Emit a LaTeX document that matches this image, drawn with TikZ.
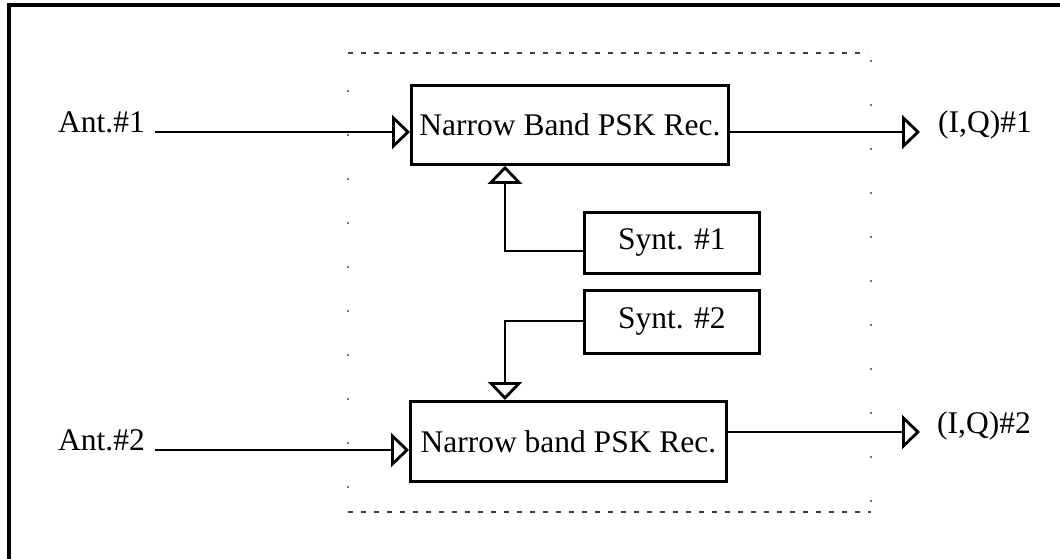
\documentclass[tikz,border=0pt]{standalone}
\usepackage{fontspec}
\setmainfont{Liberation Serif}
\usetikzlibrary{arrows.meta}
\begin{document}
\begin{tikzpicture}[x=1pt,y=-1pt,
  every node/.style={font=\fontsize{31.5}{36}\selectfont},
  blk/.style={draw,line width=2.8pt,inner sep=0pt,anchor=north west},
  lbl/.style={inner sep=0pt,anchor=base west},
  wire/.style={line width=2.8pt},
  tri/.style={wire,-{Triangle[open,length=18pt,width=34pt]}},
  frame/.style={line width=3.2pt},
  dashbox/.style={line width=1.3pt,black!75,dash pattern=on 5pt off 8pt},
  dotside/.style={line width=1.3pt,black!55,dash pattern=on 2pt off 42pt}]
\useasboundingbox (0,0) rectangle (1060,559);
% outer frame (left and top edges only)
\draw[frame] (9,559) -- (9,5) -- (1060,5);
% dashed enclosure
\draw[dashbox] (348,53) -- (868,53);
\draw[dashbox] (348,512) -- (871,512);
\draw[dotside] (348,90) -- (348,512);
\draw[dotside] (871,60) -- (871,512);
% blocks
\node[blk,minimum width=317pt,minimum height=79pt] (b1) at (410,84) {Narrow Band PSK Rec.};
\node[blk,minimum width=175pt,minimum height=61pt] (s1) at (583,211) {Synt. \#1};
\node[blk,minimum width=175pt,minimum height=63pt] (s2) at (583,289) {Synt. \#2};
\node[blk,minimum width=316pt,minimum height=80pt] (b2) at (409,400) {Narrow band PSK Rec.};
% labels
\node[lbl] (ant1) at (58,133) {Ant.\#1};
\node[lbl] (ant2) at (58,450) {Ant.\#2};
\node[lbl] (iq1) at (938,132) {(I,Q)\#1};
\node[lbl] (iq2) at (937,433) {(I,Q)\#2};
% connector points
\coordinate (a1) at (155,132);
\coordinate (o1) at (920,132);
\coordinate (a2) at (155,450);
\coordinate (o2) at (920,432);
\coordinate (k1) at (505,251);
\coordinate (k2) at (505,321);
% connectors
\draw[tri] (a1) -- (a1 -| b1.west);
\draw[tri] (o1 -| b1.east) -- (o1);
\draw[tri] (a2) -- (a2 -| b2.west);
\draw[tri] (o2 -| b2.east) -- (o2);
\draw[tri] (k1 -| s1.west) -- (k1) -- (k1 |- b1.south);
\draw[tri] (k2 -| s2.west) -- (k2) -- (k2 |- b2.north);
\end{tikzpicture}
\end{document}
